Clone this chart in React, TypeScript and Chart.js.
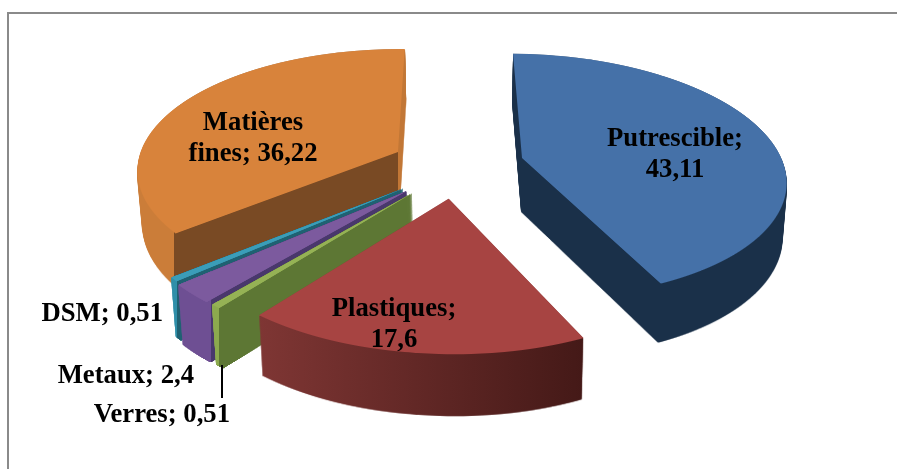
import React, { useEffect, useRef } from "react";
import { Chart, registerables } from "chart.js";

Chart.register(...registerables);

const categories = ["Putrescible", "Plastiques", "Verres", "Metaux", "DSM", "Matières fines"];
const values = [43.11, 17.6, 0.51, 2.4, 0.51, 36.22];
const topColors = ["#4571A8", "#A74442", "#95B255", "#7C5A9E", "#3B9DB8", "#D8833B"];

// Wall colours per slice: hard or soft stops along the canvas x axis.
const wallStops: [number, string][][] = [
  [[0, "#1A3049"], [897, "#1A3049"]],
  [[257, "#7F3634"], [585, "#441917"]],
  [[219, "#8CAA4E"], [219.5, "#5D7734"]],
  [[211, "#6E4F93"], [211.5, "#49386C"]],
  [[177, "#2F8FA9"], [177.5, "#1F6172"]],
  [[174, "#CB7D39"], [174.5, "#794A24"], [398, "#794A24"], [398.5, "#C27736"]],
];

// Translation of each exploded slice on the tilted pie plane, in plane pixels.
const explode: [number, number][] = [
  [103.5, -26], [27.7, 59.3], [-7.5, 48], [-13, 44], [-15.5, 38], [-22.5, -39.3],
];
// Painter's order, back to front.
const paintOrder = [5, 0, 4, 3, 2, 1];

const labelLines = [
  ["Putrescible;", "43,11"],
  ["Plastiques;", "17,6"],
  ["Verres; 0,51"],
  ["Metaux; 2,4"],
  ["DSM; 0,51"],
  ["Matières", "fines; 36,22"],
];
const labelSpots: { x: number; y: number; align: CanvasTextAlign }[] = [
  { x: 675, y: 146, align: "center" },
  { x: 394, y: 316, align: "center" },
  { x: 230, y: 422, align: "right" },
  { x: 194, y: 383, align: "right" },
  { x: 163, y: 321, align: "right" },
  { x: 253, y: 130, align: "center" },
];

// Projection of the pie plane on the screen
const VIEW = { cx: 420, cy: 170, radius: 263, tilt: 0.468, persp: 0.0012 };
const WALL = { layers: 120, shrinkX: 0.015, growY: 0.04, depth: 54, anchorX: 480, anchorY: 158 };
// Slices narrower than this (radians) get their faint sub-pixel tips firmed up.
const THIN_SWEEP = 0.3;

const W = 897;
const H = 469;

function newLayer() {
  const c = document.createElement("canvas");
  c.width = W;
  c.height = H;
  return c;
}

function firmUp(g: CanvasRenderingContext2D, canvas: HTMLCanvasElement, times: number) {
  for (let n = 0; n < times; n++) g.drawImage(canvas, 0, 0);
}

const pie3d = {
  id: "pie3d",
  beforeDatasetsDraw(chart: any) {
    const ctx: CanvasRenderingContext2D = chart.ctx;
    const arcs = chart.getDatasetMeta(0).data;
    const { cx, cy, radius, tilt, persp } = VIEW;
    for (const i of paintOrder) {
      const arc = arcs[i];
      const thin = arc.circumference < THIN_SWEEP;
      const unit = radius / arc.outerRadius;
      const [tx, ty] = explode[i];
      const mask = newLayer();
      const m = mask.getContext("2d")!;
      for (let row = 0; row < H; row++) {
        const v = row + 0.5 - cy;
        const grow = 1 + persp * v;
        const planeY = v / grow / tilt - ty;
        if (Math.abs(planeY) > radius + 2) continue;
        const sy = grow * grow * tilt * unit;
        m.save();
        m.beginPath();
        m.rect(0, row, W, 1);
        m.clip();
        m.setTransform(grow * unit, 0, 0, sy, cx + grow * (tx - arc.x * unit), row + 0.5 - (arc.y + planeY / unit) * sy);
        arc.draw(m);
        m.restore();
      }
      m.setTransform(1, 0, 0, 1, 0, 0);
      if (thin) firmUp(m, mask, 1);
      const wall = newLayer();
      const w = wall.getContext("2d")!;
      for (let l = WALL.layers; l >= 1; l--) {
        const t = l / WALL.layers;
        const sx = 1 - WALL.shrinkX * t;
        const sy = 1 + WALL.growY * t;
        w.setTransform(sx, 0, 0, sy, WALL.anchorX * (1 - sx), WALL.anchorY * (1 - sy) + WALL.depth * t);
        w.drawImage(mask, 0, 0);
      }
      w.setTransform(1, 0, 0, 1, 0, 0);
      if (thin) firmUp(w, wall, 3);
      w.globalCompositeOperation = "source-in";
      const stops = wallStops[i];
      const g = w.createLinearGradient(stops[0][0], 0, stops[stops.length - 1][0], 0);
      const span = stops[stops.length - 1][0] - stops[0][0];
      stops.forEach(([x, col]) => g.addColorStop((x - stops[0][0]) / span, col));
      w.fillStyle = g;
      w.fillRect(0, 0, W, H);
      ctx.drawImage(wall, 0, 0);
      ctx.drawImage(mask, 0, 0);
    }
    return false;
  },
  afterDraw(chart: any) {
    const ctx: CanvasRenderingContext2D = chart.ctx;
    ctx.save();
    ctx.strokeStyle = "#000000";
    ctx.lineWidth = 2;
    ctx.beginPath();
    ctx.moveTo(222, 365);
    ctx.lineTo(222, 398);
    ctx.stroke();
    ctx.fillStyle = "#000000";
    ctx.font = 'bold 26.7px "Liberation Serif"';
    ctx.textBaseline = "alphabetic";
    labelLines.forEach((lines, i) => {
      const s = labelSpots[i];
      ctx.textAlign = s.align;
      lines.forEach((line, k) => ctx.fillText(line, s.x, s.y + k * 30.5));
    });
    ctx.restore();
  },
};

export default function App() {
  const ref = useRef<HTMLCanvasElement>(null);
  useEffect(() => {
    document.body.style.margin = "0";
    document.body.style.background = "#ffffff";
    const chart = new Chart(ref.current!, {
      type: "pie",
      data: {
        labels: categories,
        datasets: [{ data: values, backgroundColor: topColors, borderWidth: 0 }],
      },
      options: {
        responsive: false,
        animation: false,
        rotation: 1,
        layout: { padding: 0 },
        plugins: { legend: { display: false }, tooltip: { enabled: false }, title: { display: false } },
      },
      plugins: [pie3d],
    } as any);
    return () => chart.destroy();
  }, []);
  return (
    <div style={{ position: "relative", width: W, height: H, overflow: "hidden", background: "#fff" }}>
      <div
        style={{
          position: "absolute",
          left: 7,
          top: 12,
          width: 900,
          height: 470,
          borderLeft: "2px solid #8a8a8a",
          borderTop: "2px solid #8a8a8a",
        }}
      />
      <canvas ref={ref} width={W} height={H} style={{ position: "absolute", left: 0, top: 0 }} />
    </div>
  );
}
